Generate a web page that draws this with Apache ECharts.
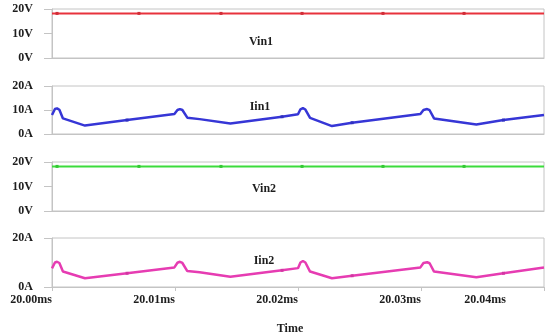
<!DOCTYPE html>
<html>
<head>
<meta charset="utf-8">
<script src="https://cdn.jsdelivr.net/npm/echarts@6/dist/echarts.min.js"></script>
<style>html,body{margin:0;padding:0;background:#fff;}#c{width:549px;height:336px;}</style>
</head>
<body>
<div id="c"></div>
<script>
// time offsets in microseconds after 20.00ms
const xTickLabels = ['20.00ms', '20.01ms', '20.02ms', '20.03ms', '20.04ms'];
const vTickLabels = ['0V', '10V', '20V'];
const aTickLabels = ['0A', '10A', '20A'];
const panelNames = ['Vin1', 'Iin1', 'Vin2', 'Iin2'];

const vinT = [0, 0.41, 7.07, 13.74, 20.33, 26.91, 33.5, 40];
const vin1V = [18.2, 18.2, 18.2, 18.2, 18.2, 18.2, 18.2, 18.2];
const vin2V = [18.2, 18.2, 18.2, 18.2, 18.2, 18.2, 18.2, 18.2];
const vinMarkT = [0.41, 7.07, 13.74, 20.33, 26.91, 33.5];

const iinT = [0, 0.24, 0.41, 0.6, 0.89, 2.68, 6.1, 9.95,
              10.2, 10.4, 10.6, 11.0, 12.0, 14.5, 18.7, 20.0,
              20.2, 20.4, 20.6, 20.98, 22.76, 24.4, 29.95,
              30.2, 30.5, 30.7, 31.06, 34.5, 36.7, 40];
const iin1V = [7.9, 10.4, 10.7, 10.1, 6.5, 3.5, 5.8, 8.3,
               10.0, 10.4, 10.0, 6.8, 6.2, 4.4, 7.2, 8.2,
               10.3, 10.8, 10.2, 6.7, 3.3, 4.7, 8.3,
               10.0, 10.4, 9.9, 6.5, 4.0, 5.8, 7.9];
const iin2V = [7.6, 10.0, 10.3, 9.8, 6.3, 3.6, 5.6, 8.0,
               9.9, 10.3, 9.8, 6.5, 6.0, 4.2, 6.8, 7.7,
               10.0, 10.6, 10.0, 6.3, 3.6, 4.6, 8.0,
               9.8, 10.1, 9.7, 6.3, 4.0, 5.6, 8.0];
const iinMarkT = [6.1, 18.7, 24.4, 36.7];

const chart = echarts.init(document.getElementById('c'), null, {renderer: 'canvas'});
const font = 'Liberation Serif';
const txt = '#1e1e1e';
const gray = '#c4c4c4';

function pts(ts, vs, marks) {
  return ts.map((t, i) => marks.indexOf(t) >= 0 ? {value: [t, vs[i]]} : {value: [t, vs[i]], symbol: 'none'});
}

const gridTops = [9, 86, 162, 238];
const gridHeights = [49, 48, 49, 49];
const grids = gridTops.map((t, i) => ({
  left: 52, right: 5, top: t, height: gridHeights[i],
  show: true, borderColor: gray, borderWidth: 1, backgroundColor: '#fff'
}));

const xAxes = gridTops.map((t, i) => ({
  type: 'value', gridIndex: i, min: 0, max: 40, interval: 10,
  axisLine: {show: true, lineStyle: {color: gray}},
  axisTick: {show: i === 3, length: 4, lineStyle: {color: gray}},
  splitLine: {show: false},
  axisLabel: i === 3 ? {
    show: true, margin: 7, align: 'right', color: txt,
    fontFamily: font, fontWeight: 'bold', fontSize: 12,
    formatter: v => {
      const k = Math.round(v / 10);
      return k === 4 ? '{last|' + xTickLabels[k] + '}' : xTickLabels[k];
    },
    rich: {last: {padding: [0, 38, 0, 0], fontFamily: font, fontWeight: 'bold', fontSize: 12, color: txt}}
  } : {show: false},
  name: i === 3 ? 'Time' : '',
  nameLocation: 'middle', nameGap: 36,
  nameTextStyle: {fontFamily: font, fontWeight: 'bold', fontSize: 12, color: txt, padding: [0, 16, 0, 0]}
}));

const yAxes = gridTops.map((t, i) => {
  const isV = (i % 2 === 0);
  const labels = isV ? vTickLabels : aTickLabels;
  return {
    type: 'value', gridIndex: i, min: 0, max: 20, interval: i === 3 ? 20 : 10,
    axisLine: {show: true, lineStyle: {color: gray}},
    axisTick: {show: true, length: 8, lineStyle: {color: gray}},
    splitLine: {show: false},
    axisLabel: {
      margin: 19, color: txt, fontFamily: font, fontWeight: 'bold', fontSize: 12,
      formatter: v => labels[Math.round(v / 10)]
    }
  };
});

const colors = ['#e8323c', '#3636d6', '#3cdc3c', '#e63cb2'];
const markColors = ['#d02e38', '#3030c0', '#34c834', '#d236a2'];
const seriesData = [
  pts(vinT, vin1V, vinMarkT),
  pts(iinT, iin1V, iinMarkT),
  pts(vinT, vin2V, vinMarkT),
  pts(iinT, iin2V, iinMarkT)
];
const series = seriesData.map((d, i) => ({
  type: 'line', xAxisIndex: i, yAxisIndex: i, data: d,
  symbol: 'rect', symbolSize: 3, showSymbol: true, showAllSymbol: true,
  lineStyle: {color: colors[i], width: i % 2 === 0 ? 2 : 2.5},
  itemStyle: {color: markColors[i]},
  silent: true, z: 3
}));

const labelPos = [[261, 42], [260, 107], [264, 189], [264, 261]];
const graphics = panelNames.map((n, i) => ({
  type: 'text', x: labelPos[i][0], y: labelPos[i][1], z: 10,
  style: {text: n, fill: txt, font: 'bold 12px "Liberation Serif"', textAlign: 'center', textVerticalAlign: 'middle'}
}));

chart.setOption({
  animation: false,
  backgroundColor: '#fff',
  grid: grids,
  xAxis: xAxes,
  yAxis: yAxes,
  series: series,
  graphic: graphics
});
</script>
</body>
</html>
